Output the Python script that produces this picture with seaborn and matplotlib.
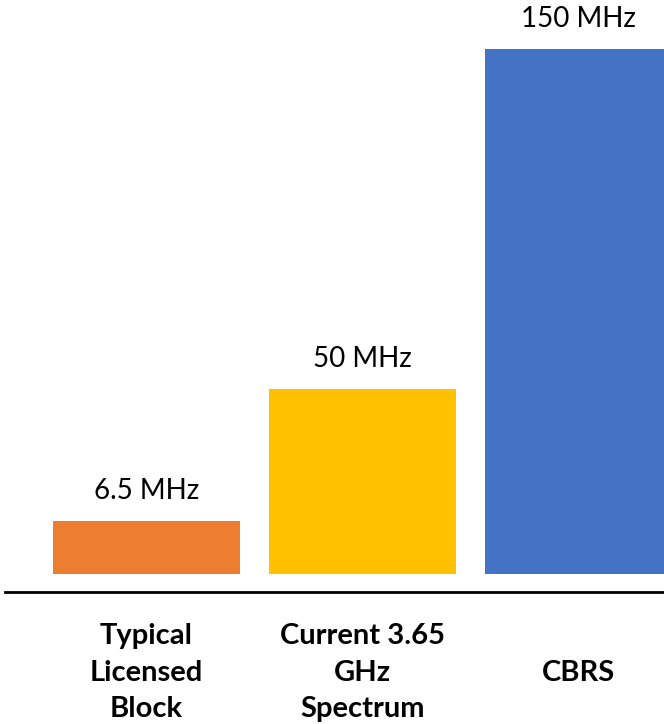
import matplotlib
matplotlib.use("Agg")
import matplotlib.pyplot as plt
import seaborn as sns
import pandas as pd

# categories and bar heights as drawn (height, label is the stated value)
categories = ["Typical\nLicensed\nBlock", "Current 3.65\nGHz\nSpectrum", "CBRS"]
bar_heights = [15.1, 52.9, 150]
value_labels = ["6.5 MHz", "50 MHz", "150 MHz"]
colors = ["#ED7D31", "#FFC000", "#4472C4"]

df = pd.DataFrame({"cat": categories, "height": bar_heights})

sns.set_theme(style="white")
plt.rcParams["font.family"] = ["Lato", "DejaVu Sans"]

fig = plt.figure(figsize=(6.64, 7.24), dpi=100)
# axes from x=5px to right edge, from top to the axis line at y=592px
ax = fig.add_axes([5 / 664, 1 - 592 / 724, 659 / 664, 592 / 724])

sns.barplot(data=df, x="cat", y="height", hue="cat", palette=colors,
            width=0.866, legend=False, ax=ax, saturation=1, linewidth=0)

ax.set_xlim(-0.655, 2.396)
ax.set_ylim(-5.14, 164)

for cont, lab in zip(ax.containers, value_labels):
    ax.bar_label(cont, labels=[lab], padding=12, fontsize=20, color="#000000")

for side in ["top", "left", "right"]:
    ax.spines[side].set_visible(False)
ax.spines["bottom"].set_color("black")
ax.spines["bottom"].set_linewidth(2)

ax.set_yticks([])
ax.set_xlabel("")
ax.set_ylabel("")
ax.tick_params(axis="x", length=0, pad=58)
for lbl in ax.get_xticklabels():
    lbl.set_fontsize(21)
    lbl.set_fontweight("bold")
    lbl.set_verticalalignment("center")
    lbl.set_linespacing(1.5)
    lbl.set_color("black")

fig.savefig("out.png", dpi=100)
plt.close(fig)
